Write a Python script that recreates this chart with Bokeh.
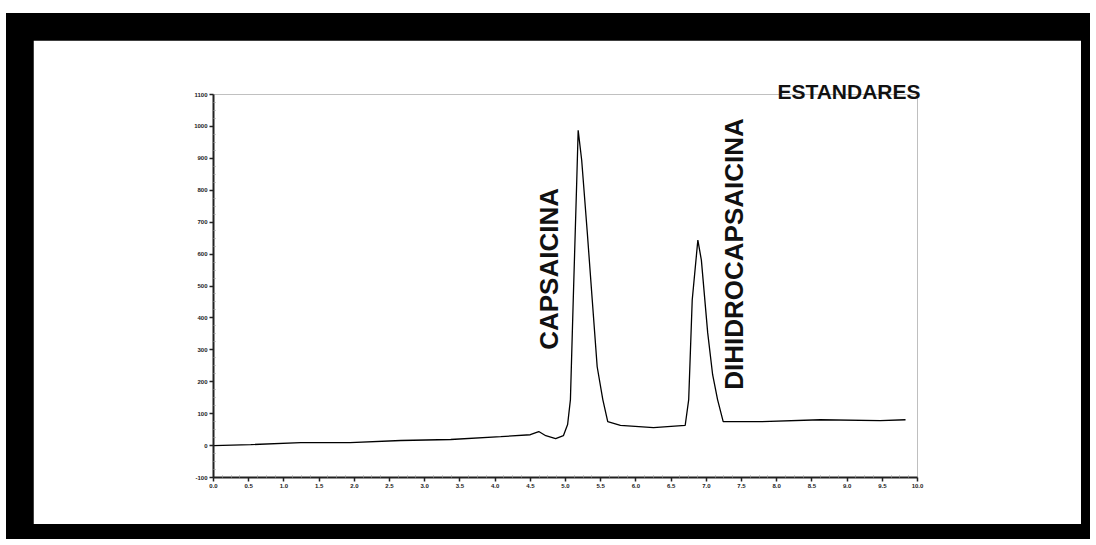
from bokeh.plotting import figure
from bokeh.models import Label, FixedTicker, Range1d, ColumnDataSource
from bokeh.layouts import column
from bokeh.embed import file_html
from bokeh.resources import INLINE

# ---- data ----
time_min = [0.00, 0.53, 1.24, 1.94, 2.66, 3.37, 4.08, 4.50, 4.62, 4.72, 4.86, 4.97,
            5.03, 5.07, 5.11, 5.16, 5.18, 5.23, 5.31, 5.38, 5.45, 5.53, 5.60, 5.78,
            6.25, 6.70, 6.75, 6.80, 6.88, 6.93, 7.02, 7.09, 7.16, 7.24, 7.77, 8.62,
            9.47, 9.83]
signal = [0, 3, 9, 9, 16, 19, 28, 34, 44, 31, 22, 31,
          66, 144, 456, 831, 988, 894, 666, 456, 247, 144, 75, 63,
          56, 63, 144, 456, 644, 581, 353, 222, 144, 75, 75, 81,
          78, 81]

x_ticks = [0.0, 0.5, 1.0, 1.5, 2.0, 2.5, 3.0, 3.5, 4.0, 4.5, 5.0,
           5.5, 6.0, 6.5, 7.0, 7.5, 8.0, 8.5, 9.0, 9.5, 10.0]
x_tick_labels = ["0.0", "0.5", "1.0", "1.5", "2.0", "2.5", "3.0", "3.5", "4.0", "4.5", "5.0",
                 "5.5", "6.0", "6.5", "7.0", "7.5", "8.0", "8.5", "9.0", "9.5", "10.0"]
y_ticks = [-100, 0, 100, 200, 300, 400, 500, 600, 700, 800, 900, 1000, 1100]
y_tick_labels = ["-100", "0", "100", "200", "300", "400", "500", "600", "700", "800",
                 "900", "1000", "1100"]

peak_names = ["CAPSAICINA", "DIHIDROCAPSAICINA"]
peak_label_x = [4.76, 7.39]
peak_label_y = [300, 175]
title_text = "ESTANDARES"

src = ColumnDataSource(dict(t=time_min, s=signal))

p = figure(width=1048, height=484, output_backend="svg", toolbar_location=None,
           x_range=Range1d(0, 10), y_range=Range1d(-100, 1100),
           min_border_left=180, min_border_right=164, min_border_top=54,
           min_border_bottom=47, background_fill_color="white",
           border_fill_color="white")
# switch off every outline/border stroke the figure itself may carry
for prop in p.properties():
    if prop.endswith("line_color"):
        setattr(p, prop, None)
for g in p.grid:
    g.visible = False

p.line("t", "s", source=src, line_color="black", line_width=1.3)

# axes styling
minor_x = [t + 0.125 * k for t in x_ticks[:-1] for k in (1, 2, 3)]
minor_y = [v + 25 * k for v in y_ticks[:-1] for k in (1, 2, 3)]
p.xaxis.ticker = FixedTicker(ticks=x_ticks, minor_ticks=minor_x)
p.yaxis.ticker = FixedTicker(ticks=y_ticks, minor_ticks=minor_y)
p.xaxis.major_label_overrides = {t: l for t, l in zip(x_ticks, x_tick_labels)}
p.yaxis.major_label_overrides = {t: l for t, l in zip(y_ticks, y_tick_labels)}
for ax in (p.xaxis[0], p.yaxis[0]):
    ax.axis_line_color = "#222222"
    ax.axis_line_width = 2
    ax.major_tick_line_color = "#222222"
    ax.major_tick_line_width = 1.5
    ax.major_tick_in = 0
    ax.major_tick_out = 4
    ax.minor_tick_line_color = "#999999"
    ax.minor_tick_in = 2
    ax.minor_tick_out = 0
    ax.major_label_text_font = "Liberation Sans"
    ax.major_label_text_font_size = "6px"
    ax.major_label_text_font_style = "bold"
    ax.major_label_text_color = "#222222"
    ax.major_label_standoff = 2

for name, lx, ly in zip(peak_names, peak_label_x, peak_label_y):
    p.add_layout(Label(x=lx, y=ly, text=name, angle=1.5708,
                       text_align="left", text_baseline="middle",
                       text_font="Liberation Sans", text_font_style="bold",
                       text_font_size="26px", text_color="#111111"))

# "ESTANDARES" as the figure title, right-aligned, next to the frame top
p.title.text = title_text
p.title.align = "right"
p.title.offset = -3
p.title.standoff = -17
p.title.text_font = "Liberation Sans"
p.title.text_font_style = "bold"
p.title.text_font_size = "21px"
p.title.text_color = "#111111"

layout = column(p, styles={"background-color": "black",
                           "padding": "27px 9px 15px 27px",
                           "margin-top": "13px",
                           "margin-left": "6px"})

open("out.html", "w").write(file_html(layout, INLINE))
